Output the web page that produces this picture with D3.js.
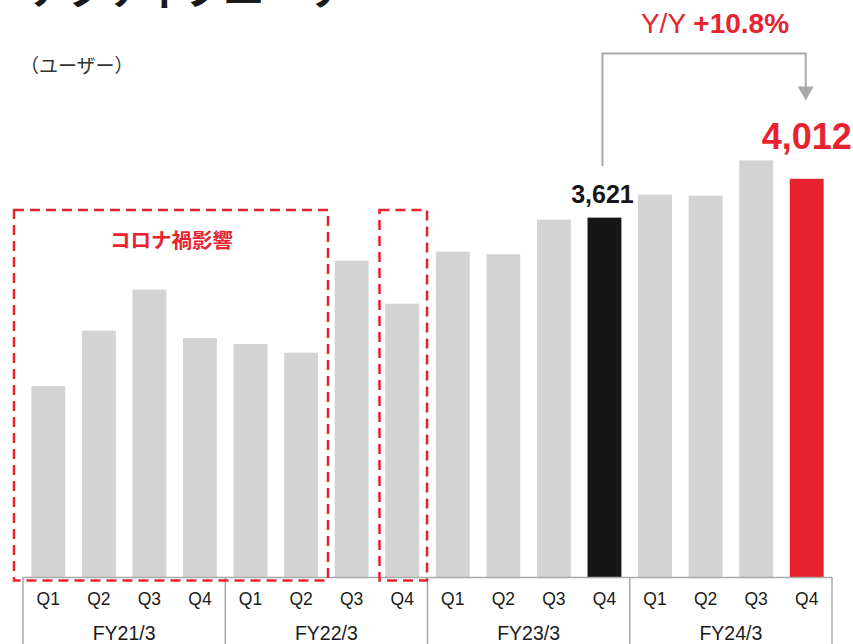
<!DOCTYPE html>
<html>
<head>
<meta charset="utf-8">
<script src="https://cdn.jsdelivr.net/npm/d3@7"></script>
<style>
  html, body { margin: 0; padding: 0; background: #fff; }
  svg { display: block; }
</style>
</head>
<body>
<svg id="chart" width="853" height="644"></svg>
<script>
// Active users by quarter
const fiscalYears = ["FY21/3", "FY22/3", "FY23/3", "FY24/3"];
const quarters = ["Q1", "Q2", "Q3", "Q4"];
const fy21 = [1924, 2482, 2895, 2408];
const fy22 = [2348, 2260, 3187, 2754];
const fy23 = [3278, 3251, 3600, 3621];
const fy24 = [3852, 3842, 4198, 4012];
const yoyLabel = "+10.8%";

const seriesByYear = [fy21, fy22, fy23, fy24];
const rows = [];
fiscalYears.forEach((fy, i) => {
  quarters.forEach((q, j) => {
    rows.push({ key: fy + "-" + q, fy, q, value: seriesByYear[i][j] });
  });
});

const W = 853, H = 644;
const GRAY = "#d3d3d3", BLACK = "#161616", RED = "#e8232f", LINE = "#a9a9a9";
const LATIN = "'Liberation Sans', Arial, sans-serif";
const CJK = "'Noto Sans CJK JP', 'Noto Sans', sans-serif";

const svg = d3.select("#chart");

const x = d3.scaleBand()
  .domain(rows.map(d => d.key))
  .range([23, 832])
  .paddingInner(0.33)
  .paddingOuter(0.165);

const baseY = 577;
const y = d3.scaleLinear().domain([0, 4000]).range([baseY, baseY - 397]);

const lastPrev = rows[11];
const lastCur = rows[15];

// bars
svg.append("g").selectAll("rect")
  .data(rows)
  .join("rect")
  .attr("x", d => x(d.key))
  .attr("width", x.bandwidth())
  .attr("y", d => y(d.value))
  .attr("height", d => y(0) - y(d.value))
  .attr("fill", d => d === lastCur ? RED : d === lastPrev ? BLACK : GRAY);

// category axis: baseline, quarter labels, fiscal-year groups
const axis = svg.append("g");
axis.append("line")
  .attr("x1", x.range()[0]).attr("x2", x.range()[1])
  .attr("y1", baseY + 0.5).attr("y2", baseY + 0.5)
  .attr("stroke", LINE).attr("stroke-width", 1.5);

const step = x.step();
const groupStart = i => x.range()[0] + i * 4 * step;
d3.range(fiscalYears.length + 1).forEach(i => {
  axis.append("line")
    .attr("x1", groupStart(i)).attr("x2", groupStart(i))
    .attr("y1", baseY).attr("y2", H)
    .attr("stroke", LINE).attr("stroke-width", 1.5);
});

axis.selectAll("text.q")
  .data(rows)
  .join("text")
  .attr("class", "q")
  .attr("x", d => x(d.key) + x.bandwidth() / 2)
  .attr("y", 605)
  .attr("text-anchor", "middle")
  .attr("font-family", LATIN)
  .attr("font-size", 17.5)
  .attr("fill", "#1a1a1a")
  .text(d => d.q);

axis.selectAll("text.fy")
  .data(fiscalYears)
  .join("text")
  .attr("class", "fy")
  .attr("x", (d, i) => (groupStart(i) + groupStart(i + 1)) / 2)
  .attr("y", 640)
  .attr("text-anchor", "middle")
  .attr("font-family", LATIN)
  .attr("font-size", 19.5)
  .attr("fill", "#1a1a1a")
  .text(d => d);

// title (partly above the top edge) and unit
svg.append("text")
  .attr("x", 28).attr("y", 4)
  .attr("font-family", CJK)
  .attr("font-weight", 700)
  .attr("font-size", 40)
  .attr("fill", "#1a1a1a")
  .text("アクティブユーザー");

svg.append("text")
  .attr("x", 20).attr("y", 73)
  .attr("font-family", CJK)
  .attr("font-size", 19)
  .attr("fill", "#333")
  .text("（ユーザー）");

// dashed highlight boxes for the COVID-affected quarters
const boxes = [
  { x0: 14, x1: 328, y0: 210, y1: 580.5 },
  { x0: 379.5, x1: 427, y0: 210, y1: 580.5 }
];
svg.append("g").selectAll("rect")
  .data(boxes)
  .join("rect")
  .attr("x", d => d.x0).attr("y", d => d.y0)
  .attr("width", d => d.x1 - d.x0).attr("height", d => d.y1 - d.y0)
  .attr("fill", "none")
  .attr("stroke", RED)
  .attr("stroke-width", 2.5)
  .attr("stroke-dasharray", "10 6");

svg.append("text")
  .attr("x", 171.5).attr("y", 248)
  .attr("text-anchor", "middle")
  .attr("font-family", CJK)
  .attr("font-weight", 700)
  .attr("font-size", 20.5)
  .attr("fill", RED)
  .text("コロナ禍影響");

// value labels
const cx = d => x(d.key) + x.bandwidth() / 2;
svg.append("text")
  .attr("x", cx(lastPrev) - 2).attr("y", 203)
  .attr("text-anchor", "middle")
  .attr("font-family", LATIN)
  .attr("font-weight", 700)
  .attr("font-size", 25)
  .attr("fill", BLACK)
  .text(d3.format(",")(lastPrev.value));

svg.append("text")
  .attr("x", cx(lastCur)).attr("y", 149)
  .attr("text-anchor", "middle")
  .attr("font-family", LATIN)
  .attr("font-weight", 700)
  .attr("font-size", 36)
  .attr("fill", RED)
  .text(d3.format(",")(lastCur.value));

// year-over-year connector
const ax0 = cx(lastPrev) - 2, ax1 = cx(lastCur) - 1, topY = 53.5;
svg.append("path")
  .attr("d", `M${ax0},166 V${topY} H${ax1} V88`)
  .attr("fill", "none")
  .attr("stroke", LINE)
  .attr("stroke-width", 2);
svg.append("path")
  .attr("d", `M${ax1 - 8},86.5 L${ax1 + 8},86.5 L${ax1},100.5 Z`)
  .attr("fill", LINE);

const yoy = svg.append("text")
  .attr("x", 715).attr("y", 33)
  .attr("text-anchor", "middle")
  .attr("font-family", LATIN)
  .attr("font-size", 28)
  .attr("fill", RED);
yoy.append("tspan").text("Y/Y ");
yoy.append("tspan").attr("font-weight", 700).text(yoyLabel);
</script>
</body>
</html>
